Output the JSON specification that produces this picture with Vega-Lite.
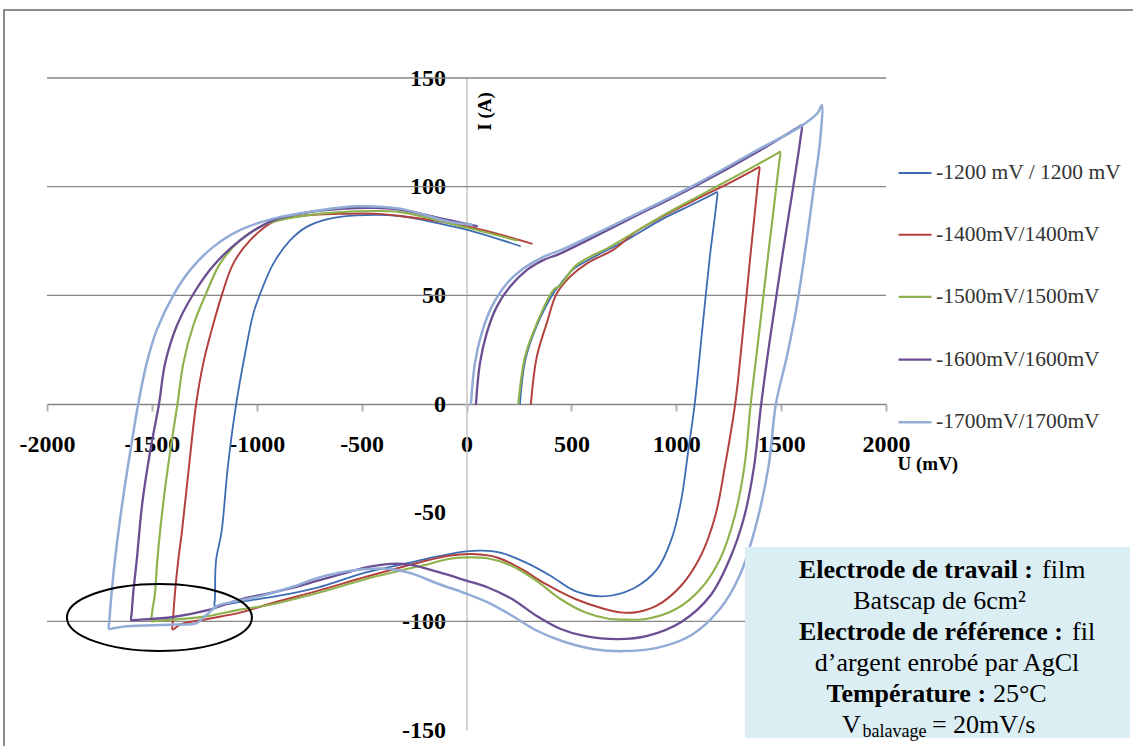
{
"$schema": "https://vega.github.io/schema/vega-lite/v6.json",
"width": 839, "height": 652,
"autosize": {"type": "none"},
"padding": {"left": 47, "top": 78, "right": 247, "bottom": 16},
"background": "white",
"config": {"view": {"stroke": null}, "font": "Liberation Serif"},
"datasets": {
"cv": [
{"s":"-1200 mV / 1200 mV","i":1,"u":255,"a":0},{"s":"-1200 mV / 1200 mV","i":2,"u":280,"a":20},{"s":"-1200 mV / 1200 mV","i":3,"u":335,"a":36},{"s":"-1200 mV / 1200 mV","i":4,"u":414,"a":51},{"s":"-1200 mV / 1200 mV","i":5,"u":446,"a":55},{"s":"-1200 mV / 1200 mV","i":6,"u":509,"a":62},{"s":"-1200 mV / 1200 mV","i":7,"u":605,"a":67.5},{"s":"-1200 mV / 1200 mV","i":8,"u":764,"a":75.5},{"s":"-1200 mV / 1200 mV","i":9,"u":923,"a":84.5},{"s":"-1200 mV / 1200 mV","i":10,"u":1081,"a":92},{"s":"-1200 mV / 1200 mV","i":10.5,"u":1180,"a":96.8},{"s":"-1200 mV / 1200 mV","i":11,"u":1195,"a":97.5},{"s":"-1200 mV / 1200 mV","i":11.5,"u":1191,"a":92},{"s":"-1200 mV / 1200 mV","i":12,"u":1160,"a":67.7},{"s":"-1200 mV / 1200 mV","i":13,"u":1119,"a":29.4},{"s":"-1200 mV / 1200 mV","i":14,"u":1088,"a":0},{"s":"-1200 mV / 1200 mV","i":15,"u":1058,"a":-21},{"s":"-1200 mV / 1200 mV","i":16,"u":1024,"a":-44},{"s":"-1200 mV / 1200 mV","i":17,"u":978,"a":-62},{"s":"-1200 mV / 1200 mV","i":18,"u":909,"a":-76},{"s":"-1200 mV / 1200 mV","i":19,"u":793,"a":-85},{"s":"-1200 mV / 1200 mV","i":20,"u":650,"a":-88.5},{"s":"-1200 mV / 1200 mV","i":21,"u":516,"a":-86},{"s":"-1200 mV / 1200 mV","i":22,"u":400,"a":-79},{"s":"-1200 mV / 1200 mV","i":23,"u":284,"a":-73},{"s":"-1200 mV / 1200 mV","i":24,"u":169,"a":-68.6},{"s":"-1200 mV / 1200 mV","i":25,"u":76,"a":-67.5},{"s":"-1200 mV / 1200 mV","i":26,"u":0,"a":-67.8},{"s":"-1200 mV / 1200 mV","i":27,"u":-132,"a":-70},{"s":"-1200 mV / 1200 mV","i":28,"u":-270,"a":-73},{"s":"-1200 mV / 1200 mV","i":29,"u":-479,"a":-77.5},{"s":"-1200 mV / 1200 mV","i":30,"u":-710,"a":-84.5},{"s":"-1200 mV / 1200 mV","i":31,"u":-941,"a":-89},{"s":"-1200 mV / 1200 mV","i":32,"u":-1080,"a":-91},{"s":"-1200 mV / 1200 mV","i":32.5,"u":-1185,"a":-92.8},{"s":"-1200 mV / 1200 mV","i":33,"u":-1200,"a":-93},{"s":"-1200 mV / 1200 mV","i":33.5,"u":-1199,"a":-89},{"s":"-1200 mV / 1200 mV","i":34,"u":-1194,"a":-72},{"s":"-1200 mV / 1200 mV","i":35,"u":-1168,"a":-59},{"s":"-1200 mV / 1200 mV","i":36,"u":-1138,"a":-29},{"s":"-1200 mV / 1200 mV","i":37,"u":-1098,"a":0},{"s":"-1200 mV / 1200 mV","i":38,"u":-1056,"a":23},{"s":"-1200 mV / 1200 mV","i":39,"u":-1016,"a":41.7},{"s":"-1200 mV / 1200 mV","i":40,"u":-977,"a":52.4},{"s":"-1200 mV / 1200 mV","i":41,"u":-921,"a":64.6},{"s":"-1200 mV / 1200 mV","i":42,"u":-841,"a":75.3},{"s":"-1200 mV / 1200 mV","i":43,"u":-762,"a":81.5},{"s":"-1200 mV / 1200 mV","i":44,"u":-651,"a":85.3},{"s":"-1200 mV / 1200 mV","i":45,"u":-523,"a":86.8},{"s":"-1200 mV / 1200 mV","i":46,"u":-317,"a":86.5},{"s":"-1200 mV / 1200 mV","i":47,"u":-150,"a":83.5},{"s":"-1200 mV / 1200 mV","i":48,"u":0,"a":80.2},{"s":"-1200 mV / 1200 mV","i":49,"u":255,"a":72.7},

{"s":"-1400mV/1400mV","i":1,"u":307,"a":0},{"s":"-1400mV/1400mV","i":2,"u":335,"a":21.7},{"s":"-1400mV/1400mV","i":3,"u":382,"a":37},{"s":"-1400mV/1400mV","i":4,"u":430,"a":50.8},{"s":"-1400mV/1400mV","i":5,"u":493,"a":58.5},{"s":"-1400mV/1400mV","i":6,"u":573,"a":64.6},{"s":"-1400mV/1400mV","i":7,"u":700,"a":71},{"s":"-1400mV/1400mV","i":8,"u":812,"a":79.5},{"s":"-1400mV/1400mV","i":9,"u":1081,"a":93.5},{"s":"-1400mV/1400mV","i":10,"u":1250,"a":101.5},{"s":"-1400mV/1400mV","i":10.5,"u":1382,"a":108.3},{"s":"-1400mV/1400mV","i":11,"u":1396,"a":109},{"s":"-1400mV/1400mV","i":11.5,"u":1392,"a":104.5},{"s":"-1400mV/1400mV","i":12,"u":1353,"a":67.7},{"s":"-1400mV/1400mV","i":13,"u":1314,"a":29.4},{"s":"-1400mV/1400mV","i":14,"u":1281,"a":0},{"s":"-1400mV/1400mV","i":15,"u":1232,"a":-28.7},{"s":"-1400mV/1400mV","i":16,"u":1186,"a":-51.5},{"s":"-1400mV/1400mV","i":17,"u":1117,"a":-69.8},{"s":"-1400mV/1400mV","i":18,"u":1024,"a":-83.5},{"s":"-1400mV/1400mV","i":19,"u":909,"a":-92.7},{"s":"-1400mV/1400mV","i":20,"u":816,"a":-95.7},{"s":"-1400mV/1400mV","i":21,"u":747,"a":-96},{"s":"-1400mV/1400mV","i":22,"u":654,"a":-94.2},{"s":"-1400mV/1400mV","i":23,"u":516,"a":-89.6},{"s":"-1400mV/1400mV","i":24,"u":377,"a":-82.8},{"s":"-1400mV/1400mV","i":25,"u":261,"a":-75.9},{"s":"-1400mV/1400mV","i":26,"u":146,"a":-70.6},{"s":"-1400mV/1400mV","i":27,"u":30,"a":-69},{"s":"-1400mV/1400mV","i":28,"u":-86,"a":-69.8},{"s":"-1400mV/1400mV","i":29,"u":-224,"a":-72.9},{"s":"-1400mV/1400mV","i":30,"u":-317,"a":-75.2},{"s":"-1400mV/1400mV","i":31,"u":-479,"a":-79.5},{"s":"-1400mV/1400mV","i":32,"u":-710,"a":-86},{"s":"-1400mV/1400mV","i":33,"u":-941,"a":-92},{"s":"-1400mV/1400mV","i":34,"u":-1080,"a":-96},{"s":"-1400mV/1400mV","i":35,"u":-1239,"a":-99},{"s":"-1400mV/1400mV","i":36,"u":-1366,"a":-101.5},{"s":"-1400mV/1400mV","i":37,"u":-1401,"a":-103.8},{"s":"-1400mV/1400mV","i":37.5,"u":-1399,"a":-99},{"s":"-1400mV/1400mV","i":38,"u":-1390,"a":-87},{"s":"-1400mV/1400mV","i":39,"u":-1374,"a":-71.7},{"s":"-1400mV/1400mV","i":40,"u":-1357,"a":-59},{"s":"-1400mV/1400mV","i":41,"u":-1323,"a":-28.7},{"s":"-1400mV/1400mV","i":42,"u":-1289,"a":0},{"s":"-1400mV/1400mV","i":43,"u":-1255,"a":18.7},{"s":"-1400mV/1400mV","i":44,"u":-1215,"a":34},{"s":"-1400mV/1400mV","i":45,"u":-1167,"a":50},{"s":"-1400mV/1400mV","i":46,"u":-1112,"a":64.6},{"s":"-1400mV/1400mV","i":47,"u":-1032,"a":75.3},{"s":"-1400mV/1400mV","i":48,"u":-921,"a":83.8},{"s":"-1400mV/1400mV","i":49,"u":-762,"a":86.8},{"s":"-1400mV/1400mV","i":50,"u":-600,"a":87.5},{"s":"-1400mV/1400mV","i":51,"u":-444,"a":87.6},{"s":"-1400mV/1400mV","i":52,"u":-317,"a":86.5},{"s":"-1400mV/1400mV","i":53,"u":0,"a":81.8},{"s":"-1400mV/1400mV","i":54,"u":311,"a":73.8},

{"s":"-1500mV/1500mV","i":1,"u":247,"a":0},{"s":"-1500mV/1500mV","i":2,"u":279,"a":21.7},{"s":"-1500mV/1500mV","i":3,"u":335,"a":37},{"s":"-1500mV/1500mV","i":4,"u":414,"a":52.4},{"s":"-1500mV/1500mV","i":5,"u":446,"a":54.5},{"s":"-1500mV/1500mV","i":6,"u":525,"a":64},{"s":"-1500mV/1500mV","i":7,"u":684,"a":72.3},{"s":"-1500mV/1500mV","i":8,"u":923,"a":86},{"s":"-1500mV/1500mV","i":9,"u":1129,"a":96.8},{"s":"-1500mV/1500mV","i":10,"u":1336,"a":107.5},{"s":"-1500mV/1500mV","i":10.5,"u":1480,"a":115.2},{"s":"-1500mV/1500mV","i":11,"u":1495,"a":116},{"s":"-1500mV/1500mV","i":11.5,"u":1490,"a":110.5},{"s":"-1500mV/1500mV","i":12,"u":1437,"a":67.7},{"s":"-1500mV/1500mV","i":13,"u":1391,"a":29.4},{"s":"-1500mV/1500mV","i":14,"u":1355,"a":0},{"s":"-1500mV/1500mV","i":15,"u":1325,"a":-28.7},{"s":"-1500mV/1500mV","i":16,"u":1279,"a":-51.5},{"s":"-1500mV/1500mV","i":17,"u":1209,"a":-71.3},{"s":"-1500mV/1500mV","i":18,"u":1117,"a":-85},{"s":"-1500mV/1500mV","i":19,"u":1001,"a":-94.2},{"s":"-1500mV/1500mV","i":20,"u":862,"a":-98.8},{"s":"-1500mV/1500mV","i":21,"u":747,"a":-99.2},{"s":"-1500mV/1500mV","i":22,"u":677,"a":-98.8},{"s":"-1500mV/1500mV","i":23,"u":562,"a":-95.7},{"s":"-1500mV/1500mV","i":24,"u":446,"a":-89.6},{"s":"-1500mV/1500mV","i":25,"u":331,"a":-81.2},{"s":"-1500mV/1500mV","i":26,"u":215,"a":-74.4},{"s":"-1500mV/1500mV","i":27,"u":99,"a":-71},{"s":"-1500mV/1500mV","i":28,"u":0,"a":-70.6},{"s":"-1500mV/1500mV","i":29,"u":-86,"a":-71.3},{"s":"-1500mV/1500mV","i":30,"u":-178,"a":-73.6},{"s":"-1500mV/1500mV","i":31,"u":-317,"a":-76.7},{"s":"-1500mV/1500mV","i":32,"u":-479,"a":-80.5},{"s":"-1500mV/1500mV","i":33,"u":-710,"a":-87},{"s":"-1500mV/1500mV","i":34,"u":-941,"a":-92.5},{"s":"-1500mV/1500mV","i":35,"u":-1080,"a":-94.6},{"s":"-1500mV/1500mV","i":36,"u":-1239,"a":-97.7},{"s":"-1500mV/1500mV","i":37,"u":-1399,"a":-99.2},{"s":"-1500mV/1500mV","i":37.5,"u":-1488,"a":-99.9},{"s":"-1500mV/1500mV","i":38,"u":-1501,"a":-100},{"s":"-1500mV/1500mV","i":38.5,"u":-1499,"a":-96},{"s":"-1500mV/1500mV","i":39,"u":-1485,"a":-87},{"s":"-1500mV/1500mV","i":40,"u":-1474,"a":-71.7},{"s":"-1500mV/1500mV","i":41,"u":-1445,"a":-45},{"s":"-1500mV/1500mV","i":42,"u":-1410,"a":-20},{"s":"-1500mV/1500mV","i":43,"u":-1378,"a":0},{"s":"-1500mV/1500mV","i":44,"u":-1350,"a":18.7},{"s":"-1500mV/1500mV","i":45,"u":-1303,"a":36},{"s":"-1500mV/1500mV","i":46,"u":-1239,"a":51.4},{"s":"-1500mV/1500mV","i":47,"u":-1175,"a":64.6},{"s":"-1500mV/1500mV","i":48,"u":-1080,"a":75.3},{"s":"-1500mV/1500mV","i":49,"u":-953,"a":82.9},{"s":"-1500mV/1500mV","i":50,"u":-762,"a":86.8},{"s":"-1500mV/1500mV","i":51,"u":-600,"a":88.3},{"s":"-1500mV/1500mV","i":52,"u":-444,"a":88.8},{"s":"-1500mV/1500mV","i":53,"u":-317,"a":88.3},{"s":"-1500mV/1500mV","i":54,"u":0,"a":81.2},{"s":"-1500mV/1500mV","i":55,"u":240,"a":75.3},

{"s":"-1600mV/1600mV","i":1,"u":45,"a":0},{"s":"-1600mV/1600mV","i":2,"u":64,"a":18.7},{"s":"-1600mV/1600mV","i":3,"u":96,"a":32.5},{"s":"-1600mV/1600mV","i":4,"u":144,"a":44.7},{"s":"-1600mV/1600mV","i":5,"u":207,"a":53.9},{"s":"-1600mV/1600mV","i":6,"u":287,"a":61.6},{"s":"-1600mV/1600mV","i":7,"u":366,"a":66.2},{"s":"-1600mV/1600mV","i":8,"u":446,"a":69.2},{"s":"-1600mV/1600mV","i":9,"u":764,"a":84.5},{"s":"-1600mV/1600mV","i":10,"u":1081,"a":99.8},{"s":"-1600mV/1600mV","i":11,"u":1399,"a":116.7},{"s":"-1600mV/1600mV","i":11.5,"u":1584,"a":127.5},{"s":"-1600mV/1600mV","i":12,"u":1598,"a":128.2},{"s":"-1600mV/1600mV","i":12.5,"u":1592,"a":122},{"s":"-1600mV/1600mV","i":13,"u":1505,"a":67.7},{"s":"-1600mV/1600mV","i":14,"u":1446,"a":29.4},{"s":"-1600mV/1600mV","i":15,"u":1405,"a":0},{"s":"-1600mV/1600mV","i":16,"u":1371,"a":-28.7},{"s":"-1600mV/1600mV","i":17,"u":1325,"a":-51.5},{"s":"-1600mV/1600mV","i":18,"u":1255,"a":-71.3},{"s":"-1600mV/1600mV","i":19,"u":1163,"a":-88.1},{"s":"-1600mV/1600mV","i":20,"u":1024,"a":-100.3},{"s":"-1600mV/1600mV","i":21,"u":862,"a":-106.7},{"s":"-1600mV/1600mV","i":22,"u":724,"a":-108.2},{"s":"-1600mV/1600mV","i":23,"u":562,"a":-106.7},{"s":"-1600mV/1600mV","i":24,"u":446,"a":-103.4},{"s":"-1600mV/1600mV","i":25,"u":331,"a":-97.3},{"s":"-1600mV/1600mV","i":26,"u":215,"a":-89.6},{"s":"-1600mV/1600mV","i":27,"u":99,"a":-84.3},{"s":"-1600mV/1600mV","i":28,"u":0,"a":-81.3},{"s":"-1600mV/1600mV","i":29,"u":-132,"a":-77.4},{"s":"-1600mV/1600mV","i":30,"u":-270,"a":-73.9},{"s":"-1600mV/1600mV","i":31,"u":-363,"a":-73.6},{"s":"-1600mV/1600mV","i":32,"u":-479,"a":-75.2},{"s":"-1600mV/1600mV","i":33,"u":-594,"a":-78.2},{"s":"-1600mV/1600mV","i":34,"u":-710,"a":-81.3},{"s":"-1600mV/1600mV","i":35,"u":-825,"a":-84.5},{"s":"-1600mV/1600mV","i":36,"u":-987,"a":-88},{"s":"-1600mV/1600mV","i":37,"u":-1080,"a":-90},{"s":"-1600mV/1600mV","i":38,"u":-1239,"a":-95},{"s":"-1600mV/1600mV","i":39,"u":-1398,"a":-98},{"s":"-1600mV/1600mV","i":39.5,"u":-1585,"a":-99.4},{"s":"-1600mV/1600mV","i":40,"u":-1598,"a":-99.5},{"s":"-1600mV/1600mV","i":40.5,"u":-1596,"a":-96},{"s":"-1600mV/1600mV","i":41,"u":-1589,"a":-87},{"s":"-1600mV/1600mV","i":42,"u":-1572,"a":-71.7},{"s":"-1600mV/1600mV","i":43,"u":-1545,"a":-45},{"s":"-1600mV/1600mV","i":44,"u":-1505,"a":-20},{"s":"-1600mV/1600mV","i":45,"u":-1466,"a":0},{"s":"-1600mV/1600mV","i":46,"u":-1437,"a":18.7},{"s":"-1600mV/1600mV","i":47,"u":-1382,"a":35.8},{"s":"-1600mV/1600mV","i":48,"u":-1303,"a":50.5},{"s":"-1600mV/1600mV","i":49,"u":-1207,"a":63.6},{"s":"-1600mV/1600mV","i":50,"u":-1080,"a":75.3},{"s":"-1600mV/1600mV","i":51,"u":-921,"a":84.5},{"s":"-1600mV/1600mV","i":52,"u":-683,"a":89.1},{"s":"-1600mV/1600mV","i":53,"u":-444,"a":90.3},{"s":"-1600mV/1600mV","i":54,"u":-317,"a":89.4},{"s":"-1600mV/1600mV","i":55,"u":-150,"a":86},{"s":"-1600mV/1600mV","i":56,"u":49,"a":81.8},

{"s":"-1700mV/1700mV","i":1,"u":21,"a":0},{"s":"-1700mV/1700mV","i":2,"u":40,"a":18.7},{"s":"-1700mV/1700mV","i":3,"u":72,"a":32.5},{"s":"-1700mV/1700mV","i":4,"u":120,"a":44.7},{"s":"-1700mV/1700mV","i":5,"u":192,"a":55.4},{"s":"-1700mV/1700mV","i":6,"u":271,"a":62.3},{"s":"-1700mV/1700mV","i":7,"u":366,"a":67.7},{"s":"-1700mV/1700mV","i":8,"u":446,"a":70.7},{"s":"-1700mV/1700mV","i":9,"u":764,"a":85.3},{"s":"-1700mV/1700mV","i":10,"u":1081,"a":100.5},{"s":"-1700mV/1700mV","i":11,"u":1399,"a":117.5},{"s":"-1700mV/1700mV","i":12,"u":1590,"a":127.5},{"s":"-1700mV/1700mV","i":12.5,"u":1675,"a":134},{"s":"-1700mV/1700mV","i":13,"u":1694,"a":137.5},{"s":"-1700mV/1700mV","i":14,"u":1686,"a":121.3},{"s":"-1700mV/1700mV","i":15,"u":1654,"a":98.3},{"s":"-1700mV/1700mV","i":16,"u":1622,"a":75.3},{"s":"-1700mV/1700mV","i":17,"u":1574,"a":44.7},{"s":"-1700mV/1700mV","i":18,"u":1527,"a":21.7},{"s":"-1700mV/1700mV","i":19,"u":1475,"a":0},{"s":"-1700mV/1700mV","i":20,"u":1440,"a":-28.7},{"s":"-1700mV/1700mV","i":21,"u":1371,"a":-59.1},{"s":"-1700mV/1700mV","i":22,"u":1302,"a":-79},{"s":"-1700mV/1700mV","i":23,"u":1209,"a":-94.2},{"s":"-1700mV/1700mV","i":24,"u":1071,"a":-106.4},{"s":"-1700mV/1700mV","i":25,"u":909,"a":-112.2},{"s":"-1700mV/1700mV","i":26,"u":747,"a":-113.7},{"s":"-1700mV/1700mV","i":27,"u":608,"a":-112.8},{"s":"-1700mV/1700mV","i":28,"u":469,"a":-109.5},{"s":"-1700mV/1700mV","i":29,"u":331,"a":-104.1},{"s":"-1700mV/1700mV","i":30,"u":215,"a":-97.3},{"s":"-1700mV/1700mV","i":31,"u":99,"a":-91.2},{"s":"-1700mV/1700mV","i":32,"u":0,"a":-87.3},{"s":"-1700mV/1700mV","i":33,"u":-132,"a":-82.8},{"s":"-1700mV/1700mV","i":34,"u":-270,"a":-77.7},{"s":"-1700mV/1700mV","i":35,"u":-363,"a":-75.9},{"s":"-1700mV/1700mV","i":36,"u":-479,"a":-75.9},{"s":"-1700mV/1700mV","i":37,"u":-594,"a":-77.4},{"s":"-1700mV/1700mV","i":38,"u":-710,"a":-80},{"s":"-1700mV/1700mV","i":39,"u":-825,"a":-84},{"s":"-1700mV/1700mV","i":40,"u":-987,"a":-88.5},{"s":"-1700mV/1700mV","i":41,"u":-1126,"a":-91.2},{"s":"-1700mV/1700mV","i":42,"u":-1191,"a":-93},{"s":"-1700mV/1700mV","i":43,"u":-1239,"a":-97},{"s":"-1700mV/1700mV","i":44,"u":-1287,"a":-100.8},{"s":"-1700mV/1700mV","i":45,"u":-1399,"a":-101.5},{"s":"-1700mV/1700mV","i":46,"u":-1620,"a":-102.3},{"s":"-1700mV/1700mV","i":46.5,"u":-1690,"a":-103.3},{"s":"-1700mV/1700mV","i":47,"u":-1704,"a":-103.5},{"s":"-1700mV/1700mV","i":47.5,"u":-1702,"a":-99},{"s":"-1700mV/1700mV","i":48,"u":-1692,"a":-87},{"s":"-1700mV/1700mV","i":49,"u":-1676,"a":-71.7},{"s":"-1700mV/1700mV","i":50,"u":-1640,"a":-45},{"s":"-1700mV/1700mV","i":51,"u":-1600,"a":-20},{"s":"-1700mV/1700mV","i":52,"u":-1565,"a":0},{"s":"-1700mV/1700mV","i":53,"u":-1525,"a":18.7},{"s":"-1700mV/1700mV","i":54,"u":-1477,"a":34},{"s":"-1700mV/1700mV","i":55,"u":-1398,"a":50},{"s":"-1700mV/1700mV","i":56,"u":-1318,"a":61.6},{"s":"-1700mV/1700mV","i":57,"u":-1207,"a":72.3},{"s":"-1700mV/1700mV","i":58,"u":-1080,"a":80},{"s":"-1700mV/1700mV","i":59,"u":-921,"a":85.3},{"s":"-1700mV/1700mV","i":60,"u":-683,"a":89.4},{"s":"-1700mV/1700mV","i":61,"u":-524,"a":91},{"s":"-1700mV/1700mV","i":62,"u":-317,"a":89.9},{"s":"-1700mV/1700mV","i":63,"u":-79,"a":83.8},{"s":"-1700mV/1700mV","i":64,"u":25,"a":82.5}
],
"grid": [{"g":150},{"g":100},{"g":50},{"g":-100}]
},
"layer": [
{"data":{"values":[{"k":"border"}]},
 "mark":{"type":"rect","fill":"white","fillOpacity":0,"stroke":"#8c8c8c","strokeWidth":2},
 "encoding":{
  "x":{"datum":-2205,"type":"quantitative","scale":{"domain":[-2000,2000],"nice":false,"zero":false}},
  "x2":{"datum":3400},
  "y":{"datum":181.3,"type":"quantitative","scale":{"domain":[-150,150],"nice":false,"zero":false}},
  "y2":{"datum":-200}}},
{"data":{"name":"grid"},
 "mark":{"type":"rule","color":"#868686","strokeWidth":1.3},
 "encoding":{
  "y":{"field":"g","type":"quantitative","scale":{"domain":[-150,150],"nice":false,"zero":false}},
  "x":{"datum":-2000,"type":"quantitative","scale":{"domain":[-2000,2000],"nice":false,"zero":false}},
  "x2":{"datum":2000}}},
{"data":{"name":"cv"},
 "mark":{"type":"line","strokeJoin":"round","strokeCap":"round","interpolate":"catmull-rom"},
 "encoding":{
  "x":{"field":"u","type":"quantitative","scale":{"domain":[-2000,2000],"nice":false,"zero":false},
   "axis":{"values":[-2000,-1500,-1000,-500,0,500,1000,1500,2000],"labelExpr":"'' + datum.value","labelFont":"Liberation Serif","labelFontSize":24,"labelFontWeight":"bold","labelColor":"black","labelPadding":21,"labelFlush":false,"labelOverlap":false,"tickSize":7,"tickColor":"#b4b4b4","tickWidth":2,"domainColor":"#868686","domainWidth":1.3,"grid":false,"offset":-326,"title":"U (mV)","titleFont":"Liberation Serif","titleFontSize":19,"titleFontWeight":"bold","titleColor":"black","titleX":850,"titleY":59,"titleAlign":"left","titleBaseline":"middle","titleAnchor":null}},
  "y":{"field":"a","type":"quantitative","scale":{"domain":[-150,150],"nice":false,"zero":false},
   "axis":{"values":[-150,-100,-50,0,50,100,150],"labelExpr":"'' + datum.value","labelFont":"Liberation Serif","labelFontSize":24,"labelFontWeight":"bold","labelColor":"black","labelPadding":21,"labelFlush":false,"labelOverlap":false,"ticks":false,"tickSize":0,"domainColor":"#c4c4c4","domainWidth":1.5,"grid":false,"offset":-419.5,"title":"I (A)","titleFont":"Liberation Serif","titleFontSize":19,"titleFontWeight":"bold","titleColor":"black","titleAngle":-90,"titleX":18,"titleY":33,"titleAlign":"center","titleBaseline":"middle","titleAnchor":null}},
  "color":{"field":"s","type":"nominal",
   "scale":{"domain":["-1200 mV / 1200 mV","-1400mV/1400mV","-1500mV/1500mV","-1600mV/1600mV","-1700mV/1700mV"],"range":["#3d6cb3","#b2403c","#8fb24e","#6c4f93","#93acd7"]},
   "legend":{"orient":"none","legendX":850,"legendY":77.5,"title":null,"padding":0,"symbolType":"stroke","symbolSize":1089,"symbolStrokeWidth":2.5,"labelFont":"Liberation Serif","labelFontSize":21.5,"labelColor":"#333333","labelOffset":3,"rowPadding":33.7,"labelLimit":300}},
  "strokeWidth":{"field":"s","type":"nominal","scale":{"domain":["-1200 mV / 1200 mV","-1400mV/1400mV","-1500mV/1500mV","-1600mV/1600mV","-1700mV/1700mV"],"range":[1.8,2.5,2.5,3,3]},"legend":null},
  "order":{"field":"i","type":"quantitative"}}},
{"data":{"values":[{"k":"box"}]},
 "mark":{"type":"rect","fill":"#dbeef4"},
 "encoding":{
  "x":{"datum":1328,"type":"quantitative","scale":{"domain":[-2000,2000],"nice":false,"zero":false}},
  "x2":{"datum":3163},
  "y":{"datum":-65.8,"type":"quantitative","scale":{"domain":[-150,150],"nice":false,"zero":false}},
  "y2":{"datum":-153.7}}},
{"data":{"values":[{"k":"ellipse"}]},
 "mark":{"type":"point","shape":"M -1 0 C -1 -0.2 -0.552 -0.362 0 -0.362 C 0.552 -0.362 1 -0.2 1 0 C 1 0.2 0.552 0.362 0 0.362 C -0.552 0.362 -1 0.2 -1 0 Z","size":34225,"filled":false,"stroke":"black","strokeWidth":2,"opacity":1},
 "encoding":{
  "x":{"datum":-1464,"type":"quantitative","scale":{"domain":[-2000,2000],"nice":false,"zero":false}},
  "y":{"datum":-98.2,"type":"quantitative","scale":{"domain":[-150,150],"nice":false,"zero":false}}}},
{"data":{"values":[{"t":"Electrode de travail :"}]},
 "mark":{"type":"text","align":"right","baseline":"alphabetic","font":"Liberation Serif","fontSize":26,"fontWeight":"bold","color":"black"},
 "encoding":{"x":{"datum":2701,"type":"quantitative","scale":{"domain":[-2000,2000],"nice":false,"zero":false}},"y":{"datum":-80.1,"type":"quantitative","scale":{"domain":[-150,150],"nice":false,"zero":false}},"text":{"field":"t"}}},
{"data":{"values":[{"t":"film"}]},
 "mark":{"type":"text","align":"left","baseline":"alphabetic","font":"Liberation Serif","fontSize":26,"color":"black"},
 "encoding":{"x":{"datum":2744,"type":"quantitative","scale":{"domain":[-2000,2000],"nice":false,"zero":false}},"y":{"datum":-80.1,"type":"quantitative","scale":{"domain":[-150,150],"nice":false,"zero":false}},"text":{"field":"t"}}},
{"data":{"values":[{"t":"Batscap de 6cm²"}]},
 "mark":{"type":"text","align":"center","baseline":"alphabetic","font":"Liberation Serif","fontSize":26,"color":"black"},
 "encoding":{"x":{"datum":2255,"type":"quantitative","scale":{"domain":[-2000,2000],"nice":false,"zero":false}},"y":{"datum":-94.3,"type":"quantitative","scale":{"domain":[-150,150],"nice":false,"zero":false}},"text":{"field":"t"}}},
{"data":{"values":[{"t":"Electrode de référence :"}]},
 "mark":{"type":"text","align":"right","baseline":"alphabetic","font":"Liberation Serif","fontSize":26,"fontWeight":"bold","color":"black"},
 "encoding":{"x":{"datum":2844,"type":"quantitative","scale":{"domain":[-2000,2000],"nice":false,"zero":false}},"y":{"datum":-108.6,"type":"quantitative","scale":{"domain":[-150,150],"nice":false,"zero":false}},"text":{"field":"t"}}},
{"data":{"values":[{"t":"fil"}]},
 "mark":{"type":"text","align":"left","baseline":"alphabetic","font":"Liberation Serif","fontSize":26,"color":"black"},
 "encoding":{"x":{"datum":2887,"type":"quantitative","scale":{"domain":[-2000,2000],"nice":false,"zero":false}},"y":{"datum":-108.6,"type":"quantitative","scale":{"domain":[-150,150],"nice":false,"zero":false}},"text":{"field":"t"}}},
{"data":{"values":[{"t":"d’argent enrobé par AgCl"}]},
 "mark":{"type":"text","align":"center","baseline":"alphabetic","font":"Liberation Serif","fontSize":26,"color":"black"},
 "encoding":{"x":{"datum":2291,"type":"quantitative","scale":{"domain":[-2000,2000],"nice":false,"zero":false}},"y":{"datum":-122.8,"type":"quantitative","scale":{"domain":[-150,150],"nice":false,"zero":false}},"text":{"field":"t"}}},
{"data":{"values":[{"t":"Température :"}]},
 "mark":{"type":"text","align":"right","baseline":"alphabetic","font":"Liberation Serif","fontSize":26,"fontWeight":"bold","color":"black"},
 "encoding":{"x":{"datum":2477,"type":"quantitative","scale":{"domain":[-2000,2000],"nice":false,"zero":false}},"y":{"datum":-137.1,"type":"quantitative","scale":{"domain":[-150,150],"nice":false,"zero":false}},"text":{"field":"t"}}},
{"data":{"values":[{"t":"25°C"}]},
 "mark":{"type":"text","align":"left","baseline":"alphabetic","font":"Liberation Serif","fontSize":26,"color":"black"},
 "encoding":{"x":{"datum":2510,"type":"quantitative","scale":{"domain":[-2000,2000],"nice":false,"zero":false}},"y":{"datum":-137.1,"type":"quantitative","scale":{"domain":[-150,150],"nice":false,"zero":false}},"text":{"field":"t"}}},
{"data":{"values":[{"t":"V"}]},
 "mark":{"type":"text","align":"left","baseline":"alphabetic","font":"Liberation Serif","fontSize":26,"color":"black"},
 "encoding":{"x":{"datum":1790,"type":"quantitative","scale":{"domain":[-2000,2000],"nice":false,"zero":false}},"y":{"datum":-151.4,"type":"quantitative","scale":{"domain":[-150,150],"nice":false,"zero":false}},"text":{"field":"t"}}},
{"data":{"values":[{"t":"balavage"}]},
 "mark":{"type":"text","align":"left","baseline":"alphabetic","font":"Liberation Serif","fontSize":18,"color":"black"},
 "encoding":{"x":{"datum":1888,"type":"quantitative","scale":{"domain":[-2000,2000],"nice":false,"zero":false}},"y":{"datum":-153.4,"type":"quantitative","scale":{"domain":[-150,150],"nice":false,"zero":false}},"text":{"field":"t"}}},
{"data":{"values":[{"t":"= 20mV/s"}]},
 "mark":{"type":"text","align":"left","baseline":"alphabetic","font":"Liberation Serif","fontSize":26,"color":"black"},
 "encoding":{"x":{"datum":2219,"type":"quantitative","scale":{"domain":[-2000,2000],"nice":false,"zero":false}},"y":{"datum":-151.4,"type":"quantitative","scale":{"domain":[-150,150],"nice":false,"zero":false}},"text":{"field":"t"}}}
]
}
